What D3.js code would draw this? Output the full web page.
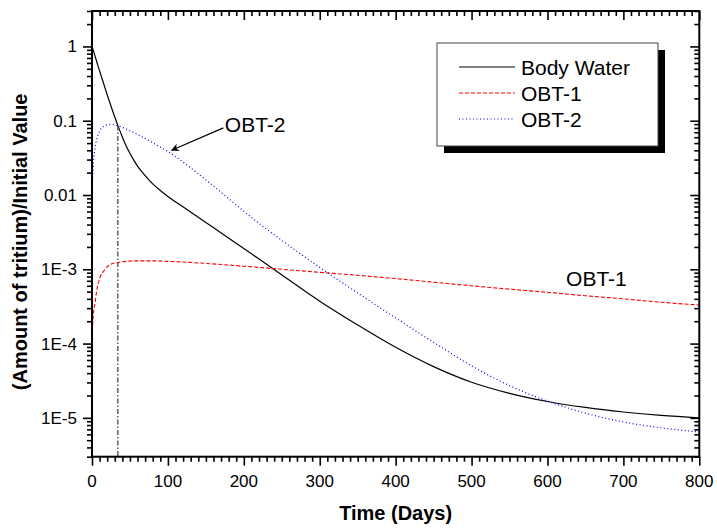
<!DOCTYPE html>
<html>
<head>
<meta charset="utf-8">
<script src="https://cdn.jsdelivr.net/npm/d3@7"></script>
<style>
body { margin: 0; background: #fff; }
svg text { font-family: "Liberation Sans", Arial, sans-serif; fill: #000; }
</style>
</head>
<body>
<div id="chart"></div>
<script>
// values
const bwDays = [0, 5, 10, 15, 20, 25, 30, 35, 40, 45, 50, 55, 60, 70, 80, 90, 100, 125, 150, 175, 200, 237, 270, 300, 350, 400, 450, 500, 550, 600, 650, 700, 750, 800];
const bodyWater = [1, 0.684, 0.468, 0.324, 0.224, 0.158, 0.112, 0.0813, 0.0603, 0.0457, 0.0363, 0.0295, 0.0245, 0.0182, 0.0141, 0.0115, 0.00955, 0.00638, 0.00427, 0.00285, 0.00191, 0.00104, 6.03e-4, 3.72e-4, 1.78e-4, 8.91e-5, 4.9e-5, 3.02e-5, 2.14e-5, 1.66e-5, 1.38e-5, 1.2e-5, 1.08e-5, 1.0e-5];

const obt1Days = [0, 1, 2, 4, 6, 8, 11, 15, 20, 25, 35, 45, 60, 80, 100, 150, 200, 250, 300, 350, 400, 450, 500, 550, 600, 650, 700, 750, 800];
const obt1 = [1.0e-4, 1.9e-4, 2.6e-4, 3.5e-4, 5.0e-4, 6.3e-4, 8.0e-4, 9.3e-4, 1.08e-3, 1.17e-3, 1.24e-3, 1.28e-3, 1.3e-3, 1.3e-3, 1.28e-3, 1.2e-3, 1.1e-3, 1.0e-3, 9.1e-4, 8.3e-4, 7.5e-4, 6.7e-4, 6.0e-4, 5.4e-4, 4.9e-4, 4.4e-4, 4.0e-4, 3.6e-4, 3.3e-4];

const obt2Days = [0, 2, 4, 7, 10, 15, 20, 25, 33, 40, 50, 60, 72, 85, 100, 125, 150, 175, 200, 250, 300, 350, 400, 450, 500, 550, 600, 650, 700, 750, 800];
const obt2 = [0.01, 0.0282, 0.0427, 0.0603, 0.0724, 0.0832, 0.0881, 0.0891, 0.0861, 0.0813, 0.0733, 0.0653, 0.0562, 0.0473, 0.0385, 0.0254, 0.016, 0.00989, 0.00603, 0.00245, 0.00106, 4.79e-4, 2.21e-4, 1.04e-4, 5.01e-5, 2.72e-5, 1.68e-5, 1.16e-5, 8.81e-6, 7.33e-6, 6.46e-6];

const xMajor = [0, 100, 200, 300, 400, 500, 600, 700, 800];
const yMajor = [1e-5, 1e-4, 1e-3, 0.01, 0.1, 1];
const yLabels = ["1E-5", "1E-4", "1E-3", "0.01", "0.1", "1"];
const seriesNames = ["Body Water", "OBT-1", "OBT-2"];

// crossing of body water and OBT-2 (dash-dot marker)
const markDay = 34, markValue = 0.086;

var margin = {top: 11, left: 92},
    width = 607.3,
    height = 445.7;

var svg = d3.select("#chart").append("svg")
    .attr("width", 717).attr("height", 531);
var g = svg.append("g")
    .attr("transform", "translate(" + margin.left + "," + margin.top + ")");

var x = d3.scaleLinear().domain([0, 800]).range([0, width]);
var y = d3.scaleLog().domain([3e-6, 3]).range([height, 0]);

// minor tick positions
var xMinor = d3.range(0, 801, 10).filter(d => d % 100 !== 0);
var yMinor = [];
[-6, -5, -4, -3, -2, -1, 0].forEach(e => {
    for (var k = 2; k <= 9; k++) {
        var v = k * Math.pow(10, e);
        if (v >= 3e-6 && v <= 3) yMinor.push(v);
    }
});

function tickAxis(axis, vals, size, transform) {
    var a = g.append("g").attr("transform", transform || null)
        .call(axis.tickValues(vals).tickSize(size).tickFormat(""));
    a.select(".domain").remove();
    a.selectAll("line").attr("stroke", "#000").attr("stroke-width", 1.6);
    return a;
}

// bottom and left: ticks outward; top and right: ticks inward
tickAxis(d3.axisBottom(x), xMinor, 5, "translate(0," + height + ")");
tickAxis(d3.axisBottom(x), xMajor, 9, "translate(0," + height + ")");
tickAxis(d3.axisTop(x), xMinor, -5);
tickAxis(d3.axisTop(x), xMajor, -9);
tickAxis(d3.axisLeft(y), yMinor, 5);
tickAxis(d3.axisLeft(y), yMajor, 9);
tickAxis(d3.axisRight(y), yMinor, -5, "translate(" + width + ",0)");
tickAxis(d3.axisRight(y), yMajor, -9, "translate(" + width + ",0)");

// tick labels
g.selectAll(".xlab").data(xMajor).enter().append("text")
    .attr("x", d => x(d)).attr("y", height + 30)
    .attr("text-anchor", "middle").style("font-size", "17px")
    .text(d => d);
g.selectAll(".ylab").data(yMajor).enter().append("text")
    .attr("x", -15).attr("y", d => y(d)).attr("dy", "0.35em")
    .attr("text-anchor", "end").style("font-size", "17px")
    .text((d, i) => yLabels[i]);

// axis titles
g.append("text")
    .attr("x", width / 2).attr("y", height + 63)
    .attr("text-anchor", "middle")
    .style("font-size", "20px").style("font-weight", "bold")
    .text("Time (Days)");
g.append("text")
    .attr("transform", "translate(-65," + (height / 2 + 8) + ") rotate(-90)")
    .attr("text-anchor", "middle")
    .style("font-size", "20px").style("font-weight", "bold")
    .text("(Amount of tritium)/Initial Value");

// curves
var line = d3.line()
    .x(d => x(d[0]))
    .y(d => y(d[1]))
    .curve(d3.curveMonotoneX);

var series = [
    {name: seriesNames[0], days: bwDays, vals: bodyWater, color: "#000", dash: null, w: 1.2},
    {name: seriesNames[1], days: obt1Days, vals: obt1, color: "#ff0000", dash: "4,2", w: 1.1},
    {name: seriesNames[2], days: obt2Days, vals: obt2, color: "#0000ff", dash: "1,2.5", w: 1.2}
];

series.forEach(s => {
    g.append("path")
        .datum(d3.zip(s.days, s.vals))
        .attr("d", line)
        .attr("fill", "none")
        .attr("stroke", s.color)
        .attr("stroke-width", s.w)
        .attr("stroke-dasharray", s.dash);
});

// vertical dash-dot line at the crossing
g.append("line")
    .attr("x1", x(markDay)).attr("x2", x(markDay))
    .attr("y1", y(markValue)).attr("y2", height)
    .attr("stroke", "#555").attr("stroke-width", 1.4)
    .attr("stroke-dasharray", "5,2,1.5,2");

// annotations
g.append("defs").append("marker")
    .attr("id", "arrow").attr("viewBox", "0 0 10 10")
    .attr("refX", 9).attr("refY", 5)
    .attr("markerWidth", 12).attr("markerHeight", 8)
    .attr("markerUnits", "userSpaceOnUse")
    .attr("orient", "auto")
    .append("path").attr("d", "M0,0L10,5L0,10L3,5Z").attr("fill", "#000");

g.append("line")
    .attr("x1", x(173)).attr("y1", y(0.08))
    .attr("x2", x(105)).attr("y2", y(0.04))
    .attr("stroke", "#000").attr("stroke-width", 1.2)
    .attr("marker-end", "url(#arrow)");
g.append("text")
    .attr("x", x(175)).attr("y", y(0.0715))
    .style("font-size", "21px")
    .text("OBT-2");
g.append("text")
    .attr("x", x(624.5)).attr("y", y(6e-4))
    .style("font-size", "21px")
    .text("OBT-1");

// legend with drop shadow
var lg = svg.append("g").attr("transform", "translate(437,43)");
lg.append("rect")
    .attr("x", 7).attr("y", 7).attr("width", 221).attr("height", 103)
    .attr("fill", "#000");
lg.append("rect")
    .attr("width", 221).attr("height", 103)
    .attr("fill", "#fff").attr("stroke", "#444").attr("stroke-width", 1);

series.forEach((s, i) => {
    var yy = 24 + i * 26;
    lg.append("line")
        .attr("x1", 22).attr("x2", 78)
        .attr("y1", yy).attr("y2", yy)
        .attr("stroke", s.color).attr("stroke-width", s.w)
        .attr("stroke-dasharray", s.dash);
    lg.append("text")
        .attr("x", 84).attr("y", yy + 8)
        .style("font-size", "21px")
        .text(s.name);
});

// frame
g.append("rect")
    .attr("width", width).attr("height", height)
    .attr("fill", "none").attr("stroke", "#000").attr("stroke-width", 2);
</script>
</body>
</html>
